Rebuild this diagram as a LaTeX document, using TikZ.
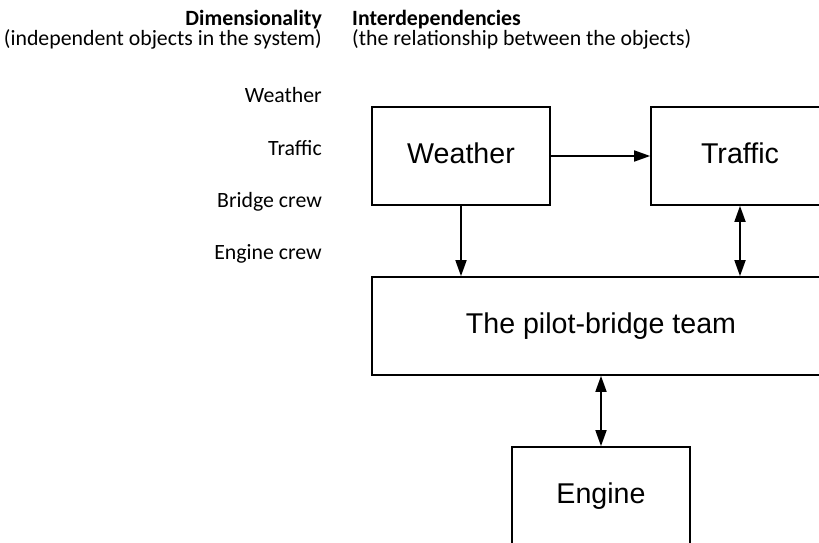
\documentclass[tikz,border=0pt]{standalone}
\usepackage{fontspec}
\setmainfont{Carlito}
\newfontfamily\boxfont{Liberation Sans}
\usetikzlibrary{arrows.meta}

\tikzset{
  listtext/.style={inner sep=0pt, font=\fontsize{21.8}{26}\selectfont},
  headtext/.style={listtext, font=\fontsize{21.8}{26}\selectfont\bfseries},
  block/.style={draw, line width=1.7pt, inner sep=0pt,
    minimum width=178pt, minimum height=98pt,
    text height=20pt, text depth=6pt,
    font=\boxfont\fontsize{28.6}{34}\selectfont},
  link/.style={line width=1.7pt, -{Triangle[length=16pt,width=11pt]}},
  twoway/.style={line width=1.7pt, {Triangle[length=16pt,width=11pt]}-{Triangle[length=16pt,width=11pt]}}
}

\begin{document}
\begin{tikzpicture}[x=1pt, y=-1pt]
  \useasboundingbox (0,0) rectangle (819,543);
  \clip (0,0) rectangle (819,543);

  % column headings
  \node[headtext, anchor=base east] (dimhead) at (322,26) {Dimensionality};
  \node[listtext, anchor=base east] (dimsub) at (322,46) {(independent objects in the system)};
  \node[headtext, anchor=base west] (inthead) at (352,26) {Interdependencies};
  \node[listtext, anchor=base west] (intsub) at (352,46) {(the relationship between the objects)};

  % list of independent objects
  \node[listtext, anchor=base east] (lweather) at (322,102) {Weather};
  \node[listtext, anchor=base east] (ltraffic) at (322,155) {Traffic};
  \node[listtext, anchor=base east] (lbridge) at (322,207) {Bridge crew};
  \node[listtext, anchor=base east] (lengine) at (322,259) {Engine crew};

  % interdependency blocks
  \node[block] (weather) at (461,156) {Weather};
  \node[block] (traffic) at (740,156) {Traffic};
  \node[block, minimum width=458pt] (pilot) at (601,326) {The pilot-bridge team};
  \node[block] (engine) at (601,496) {Engine};

  % connectors
  \draw[link] (weather.east) -- (traffic.west);
  \draw[link] (weather.south) -- (weather.south |- pilot.north);
  \draw[twoway] (traffic.south) -- (traffic.south |- pilot.north);
  \draw[twoway] (pilot.south) -- (engine.north);
\end{tikzpicture}
\end{document}
